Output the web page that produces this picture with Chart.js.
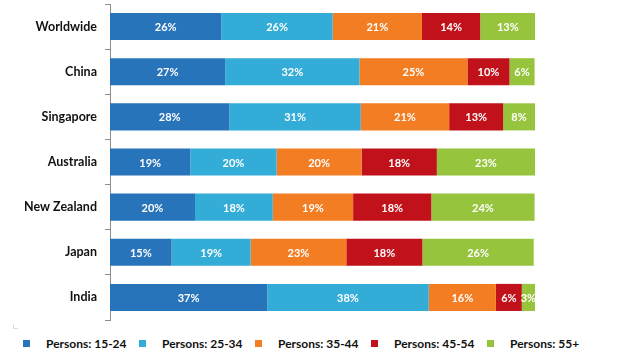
<!DOCTYPE html>
<html>
<head>
<meta charset="utf-8">
<script src="https://cdn.jsdelivr.net/npm/chart.js@4"></script>
<style>
  html, body { margin: 0; padding: 0; background: #fff; }
  #wrap { width: 630px; height: 322px; position: relative; }
  #legend { display: flex; margin-top: 14px; padding-left: 23px; font: bold 12px Lato, "Open Sans", sans-serif; color: #111; }
  #legend .item { width: 116px; display: flex; align-items: center; white-space: nowrap; }
  #legend .box { width: 7px; height: 7px; margin-right: 16px; flex: none; }
  #corner { position: absolute; left: 13px; top: 324px; width: 4px; height: 4px; border-left: 1px solid #ddd; border-bottom: 1px solid #ddd; }
</style>
</head>
<body>
<div id="wrap"><canvas id="ageChart"></canvas></div>
<div id="corner"></div>
<div id="legend"></div>
<script>
// --- DATA (share of each age group, %; labels show rounded values) ---
const countries = ["Worldwide", "China", "Singapore", "Australia", "New Zealand", "Japan", "India"];
const ageGroups = ["Persons: 15-24", "Persons: 25-34", "Persons: 35-44", "Persons: 45-54", "Persons: 55+"];
const age15to24 = [26.2, 27.1, 28.1, 18.9, 20.0, 14.5, 37.0];
const age25to34 = [26.2, 31.6, 30.9, 20.3, 18.3, 18.6, 38.0];
const age35to44 = [21.0, 25.4, 20.8, 20.0, 18.9, 22.5, 15.8];
const age45to54 = [13.7, 9.9, 12.7, 17.7, 18.4, 17.9, 6.1];
const age55plus = [13.0, 5.9, 7.5, 23.1, 24.3, 26.2, 3.1];
const seriesColors = ["#2874bb", "#33acd7", "#f37d22", "#c1121c", "#96c43d"];

const seriesValues = [age15to24, age25to34, age35to44, age45to54, age55plus];

// --- value labels drawn in the middle of each segment ---
const barLabels = {
  id: "barLabels",
  afterDatasetsDraw(chart) {
    const ctx = chart.ctx;
    ctx.save();
    ctx.font = "bold 11px Lato, 'Open Sans', sans-serif";
    ctx.fillStyle = "#ffffff";
    ctx.textAlign = "center";
    ctx.textBaseline = "middle";
    chart.data.datasets.forEach((ds, i) => {
      chart.getDatasetMeta(i).data.forEach((bar, j) => {
        const cx = (bar.x + bar.base) / 2;
        ctx.fillText(Math.round(ds.data[j]) + "%", cx, bar.y + 1);
      });
    });
    ctx.restore();
  },
};

// --- legend (html, below the canvas) ---
function buildLegend() {
  const el = document.getElementById("legend");
  el.innerHTML = ageGroups
    .map((name, i) => `<div class="item"><span class="box" style="background:${seriesColors[i]}"></span>${name}</div>`)
    .join("");
}

function initChart() {
  new Chart(document.getElementById("ageChart"), {
    type: "bar",
    data: {
      labels: countries,
      datasets: ageGroups.map((name, i) => ({
        label: name,
        data: seriesValues[i],
        backgroundColor: seriesColors[i],
        barPercentage: 0.6,
        categoryPercentage: 1,
      })),
    },
    options: {
      indexAxis: "y",
      responsive: true,
      maintainAspectRatio: false,
      animation: false,
      layout: { padding: { top: 4, right: 95, left: 0, bottom: 2 } },
      plugins: {
        tooltip: { enabled: false },
        legend: { display: false },
      },
      scales: {
        x: {
          stacked: true,
          min: 0,
          max: 100,
          display: false,
        },
        y: {
          stacked: true,
          offset: true,
          afterFit: (axis) => {
            axis.width = 110;
            axis.paddingTop = 0;
            axis.paddingBottom = 0;
          },
          grid: {
            offset: true,
            drawOnChartArea: false,
            tickLength: 5,
            color: "#8c8c8c",
          },
          border: { display: true, color: "#8c8c8c" },
          ticks: {
            padding: 8,
            color: "#111",
            font: { family: "Lato, 'Open Sans', sans-serif", size: 12.5, weight: "bold" },
          },
        },
      },
    },
    plugins: [barLabels],
  });
}

document.addEventListener("DOMContentLoaded", () => {
  buildLegend();
  initChart();
});
</script>
</body>
</html>
